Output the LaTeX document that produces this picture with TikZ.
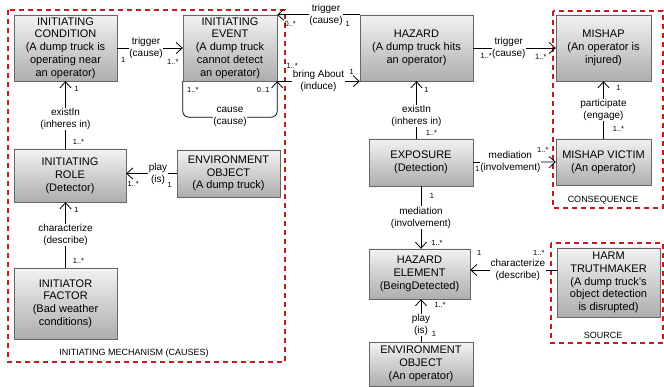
\documentclass[tikz,border=0pt]{standalone}
\usepackage{fontspec}
\setmainfont{Liberation Sans}
\usetikzlibrary{arrows.meta,positioning}
\definecolor{groupred}{RGB}{200,25,35}

\begin{document}
\begin{tikzpicture}[x=1pt,y=-1pt,
  box/.style={draw=black!60, top color=black!5, bottom color=black!32, align=center, inner sep=0pt, font=\fontsize{11}{12.8}\selectfont},
  lbl/.style={fill=white, align=center, inner sep=0.5pt, font=\fontsize{10}{12}\selectfont},
  mult/.style={inner sep=0pt, font=\fontsize{7.5}{8}\selectfont},
  assoc/.style={draw=black, line width=0.8pt, -{Straight Barb[length=6pt,width=11pt]}},
  group/.style={draw=groupred, line width=1.6pt, dash pattern=on 5pt off 4pt},
  grouplbl/.style={font=\fontsize{9}{10}\selectfont}]
\useasboundingbox (0,0) rectangle (664,387);

% groups
\draw[group] (8,10) rectangle (285,362);
\draw[group] (553,11) rectangle (663,208);
\draw[group] (551,243) rectangle (663,343);
\node[grouplbl] (mechlbl) at (134,353) {INITIATING MECHANISM (CAUSES)};
\node[grouplbl] (conslbl) at (603,200) {CONSEQUENCE};
\node[grouplbl] (srclbl) at (603,335) {SOURCE};

% classes
\node[box, minimum width=103pt, minimum height=66pt] (cond) at (65.5,48) {INITIATING\\CONDITION\\(A dump truck is\\operating near\\an operator)};
\node[box, minimum width=94pt, minimum height=66pt] (event) at (230,48) {INITIATING\\EVENT\\(A dump truck\\cannot detect\\an operator)};
\node[box, minimum width=113pt, minimum height=66pt] (hazard) at (416.5,48) {HAZARD\\(A dump truck hits\\an operator)};
\node[box, minimum width=95pt, minimum height=66pt] (mishap) at (603.5,48) {MISHAP\\(An operator is\\injured)};
\node[box, minimum width=95pt, minimum height=46pt] (victim) at (603.5,162) {MISHAP VICTIM\\(An operator)};
\node[box, minimum width=104pt, minimum height=47pt] (exposure) at (421,162.5) {EXPOSURE\\(Detection)};
\node[box, minimum width=101pt, minimum height=50pt] (hazelem) at (419.5,274) {HAZARD\\ELEMENT\\(BeingDetected)};
\node[box, minimum width=103pt, minimum height=69pt] (truthmaker) at (608.5,282.5) {HARM\\TRUTHMAKER\\(A dump truck's\\object detection\\is disrupted)};
\node[box, minimum width=104pt, minimum height=44pt] (envoperator) at (421,364) {ENVIRONMENT\\OBJECT\\(An operator)};
\node[box, minimum width=112pt, minimum height=53pt] (role) at (70,175.5) {INITIATING\\ROLE\\(Detector)};
\node[box, minimum width=103pt, minimum height=47pt] (envtruck) at (228.5,173.5) {ENVIRONMENT\\OBJECT\\(A dump truck)};
\node[box, minimum width=103pt, minimum height=71pt] (factor) at (65.5,303.5) {INITIATOR\\FACTOR\\(Bad weather\\conditions)};

% associations, top row
\draw[assoc] (cond.east) -- node[lbl, pos=0.44] (trig1) {trigger\\(cause)} node[mult, pos=0, shift={(6,12)}] (m1a) {1} node[mult, pos=1, shift={(-10,14)}] (m1b) {1..*} (event.west);
\draw[assoc] (hazard.north west) -- node[lbl, pos=0.41] (trig2) {trigger\\(cause)} node[mult, pos=0, shift={(-12,9)}] (m2a) {1} node[mult, pos=1, shift={(13,9)}] (m2b) {0..*} (event.north east);
\draw[assoc] (event.south east) -- node[lbl] (bring) {bring About\\(induce)} node[mult, pos=0, shift={(15,-15)}] (m3a) {1..*} node[mult, pos=1, shift={(-8,-9)}] (m3b) {1} (hazard.south west);
\draw[assoc, rounded corners=6pt] (event.south west) node[mult, shift={(10,9)}] (m4a) {1..*} -- ++(0,36) -| node[lbl, pos=0.25] (loop) {cause\\(cause)} (event.south east) node[mult, shift={(-14,9)}] (m4b) {0..1};
\draw[assoc] (hazard.east) -- node[lbl, pos=0.43] (trig3) {trigger\\(cause)} node[mult, pos=0, shift={(13,8)}] (m5a) {1..*} node[mult, pos=1, shift={(-15,9)}] (m5b) {1..*} (mishap.west);
\draw[assoc] (victim.north) -- node[lbl] (part) {participate\\(engage)} node[mult, pos=0, shift={(15,-10)}] (m6a) {1..*} node[mult, pos=1, shift={(15,7)}] (m6b) {1} (mishap.south);

% exposure side
\draw[assoc] (exposure.north -| hazard.south) -- node[lbl, pos=0.4] (exist2) {existIn\\(inheres in)} node[mult, pos=0, shift={(15,-6)}] (m7a) {1..*} node[mult, pos=1, shift={(10,9)}] (m7b) {1} (hazard.south);
\draw[assoc] (exposure.east) -- node[lbl, pos=0.45] (med1) {mediation\\(involvement)} node[mult, pos=0, shift={(4,6)}] (m8a) {1} node[mult, pos=1, shift={(-13,-12)}] (m8b) {1..*} (victim.west);
\draw[assoc] (exposure.south) -- node[lbl] (med2) {mediation\\(involvement)} node[mult, pos=0, shift={(11,10)}] (m9a) {1} node[mult, pos=1, shift={(16,-6)}] (m9b) {1..*} (exposure.south |- hazelem.north);
\coordinate (hzin) at ([yshift=4pt]hazelem.east);
\draw[assoc] (hzin -| truthmaker.west) -- node[lbl, pos=0.45] (charac2) {characterize\\(describe)} node[mult, pos=0, shift={(-18,-17)}] (m10a) {1..*} node[mult, pos=1, shift={(9,-17)}] (m10b) {1} (hzin);
\draw[assoc] (envoperator.north) -- node[lbl, pos=0.4] (play2) {play\\(is)} node[mult, pos=0, shift={(13,-8)}] (m11a) {1} node[mult, pos=1, shift={(19,6)}] (m11b) {1..*} (envoperator.north |- hazelem.south);

% initiating mechanism
\draw[assoc] (envtruck.west) -- node[lbl, pos=0.37] (play1) {play\\(is)} node[mult, pos=0, shift={(-7,11)}] (m12a) {1} node[mult, pos=1, shift={(7,10)}] (m12b) {1..*} (envtruck.west -| role.east);
\draw[assoc] (role.north -| cond.south) -- node[lbl, pos=0.44] (exist1) {existIn\\(inheres in)} node[mult, pos=0, shift={(13,-7)}] (m13a) {1..*} node[mult, pos=1, shift={(11,8)}] (m13b) {1} (cond.south);
\draw[assoc] (factor.north) -- node[lbl] (charac1) {characterize\\(describe)} node[mult, pos=0, shift={(13,-7)}] (m14a) {1..*} node[mult, pos=1, shift={(11,8)}] (m14b) {1} (factor.north |- role.south);
\end{tikzpicture}
\end{document}
